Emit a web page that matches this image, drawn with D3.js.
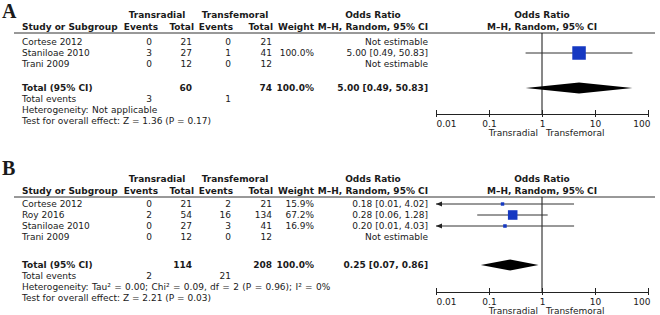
<!DOCTYPE html>
<html>
<head>
<meta charset="utf-8">
<script src="https://cdn.jsdelivr.net/npm/d3@7"></script>
<style>
  body { margin: 0; background: #fff; }
  text { font-family: "DejaVu Sans", sans-serif; font-size: 9px; fill: #1a1a1a; }
  .bold { font-weight: bold; }
</style>
</head>
<body>
<svg id="chart" width="660" height="315"></svg>
<script>
// ---- panel A data
const studiesA = ["Cortese 2012", "Staniloae 2010", "Trani 2009"];
const radEventsA = [0, 3, 0];
const radTotalA = [21, 27, 12];
const femEventsA = [0, 1, 0];
const femTotalA = [21, 41, 12];
const weightA = [null, 100.0, null];
const orA = [null, 5.00, null];
const loA = [null, 0.49, null];
const hiA = [null, 50.83, null];
const pooledA = [5.00, 0.49, 50.83];
const totalsA = [60, 74];
const totalEventsA = [3, 1];
const hetA = "Heterogeneity: Not applicable";
const testA = "Test for overall effect: Z = 1.36 (P = 0.17)";

// ---- panel B data
const studiesB = ["Cortese 2012", "Roy 2016", "Staniloae 2010", "Trani 2009"];
const radEventsB = [0, 2, 0, 0];
const radTotalB = [21, 54, 27, 12];
const femEventsB = [2, 16, 3, 0];
const femTotalB = [21, 134, 41, 12];
const weightB = [15.9, 67.2, 16.9, null];
const orB = [0.18, 0.28, 0.20, null];
const loB = [0.01, 0.06, 0.01, null];
const hiB = [4.02, 1.28, 4.03, null];
const pooledB = [0.25, 0.07, 0.86];
const totalsB = [114, 208];
const totalEventsB = [2, 21];
const hetB = "Heterogeneity: Tau² = 0.00; Chi² = 0.09, df = 2 (P = 0.96); I² = 0%";
const testB = "Test for overall effect: Z = 2.21 (P = 0.03)";

const tickValues = [0.01, 0.1, 1, 10, 100];
const tickLabels = ["0.01", "0.1", "1", "10", "100"];

const svg = d3.select("#chart");
const x = d3.scaleLog().domain([0.01, 100]).range([436, 648]);
const boxSize = d3.scaleLinear().domain([0, 100]).range([1.5, 13.5]);
const fmt = d3.format(".2f");

// column anchors (right aligned)
const col = { study: 22, ev1: 152, tot1: 192, ev2: 231, tot2: 272, wt: 314, ci: 428 };

function drawPanel(p) {
    const g = svg.append("g");

    g.append("text")
        .attr("x", 2).attr("y", p.letterY)
        .style("font-family", "'Liberation Serif', 'DejaVu Serif', serif")
        .style("font-size", "20px").style("font-weight", "bold")
        .text(p.letter);

    const h1 = p.lineY - 18, h2 = p.lineY - 6;
    const head = (txt, xx, yy, anchor) => g.append("text").attr("class", "bold")
        .attr("x", xx).attr("y", yy).attr("dy", "0.35em")
        .attr("text-anchor", anchor).text(txt);

    head("Transradial", 157, h1, "middle");
    head("Transfemoral", 235, h1, "middle");
    head("Odds Ratio", 373, h1, "middle");
    head("Odds Ratio", x(1), h1, "middle");
    head("Study or Subgroup", col.study, h2, "start");
    head("Events", col.ev1 + 6, h2, "end");
    head("Total", col.tot1 + 2, h2, "end");
    head("Events", col.ev2 + 2, h2, "end");
    head("Total", col.tot2 + 1, h2, "end");
    head("Weight", col.wt, h2, "end");
    head("M–H, Random, 95% CI", col.ci, h2, "end");
    head("M–H, Random, 95% CI", x(1), h2, "middle");

    g.append("line")
        .attr("x1", 14).attr("x2", 655)
        .attr("y1", p.lineY).attr("y2", p.lineY)
        .attr("stroke", "#333").attr("stroke-width", 1);

    const rowY = i => p.rowStart + i * 11;
    const cell = (txt, xx, yy, anchor, cls) => g.append("text")
        .attr("class", cls || null)
        .attr("x", xx).attr("y", yy).attr("dy", "0.35em")
        .attr("text-anchor", anchor).text(txt);

    p.studies.forEach((s, i) => {
        const y = rowY(i);
        cell(s, col.study, y, "start");
        cell(p.radEvents[i], col.ev1, y, "end");
        cell(p.radTotal[i], col.tot1, y, "end");
        cell(p.femEvents[i], col.ev2, y, "end");
        cell(p.femTotal[i], col.tot2, y, "end");
        if (p.weight[i] != null) cell(p.weight[i].toFixed(1) + "%", col.wt, y, "end");
        cell(p.or[i] == null ? "Not estimable"
            : `${fmt(p.or[i])} [${fmt(p.lo[i])}, ${fmt(p.hi[i])}]`, col.ci, y, "end");
    });

    // vertical line at OR = 1
    g.append("line")
        .attr("x1", x(1)).attr("x2", x(1))
        .attr("y1", p.lineY).attr("y2", p.axisY)
        .attr("stroke", "#111").attr("stroke-width", 1);

    // study CIs and boxes
    p.studies.forEach((s, i) => {
        if (p.or[i] == null) return;
        const y = rowY(i);
        const [d0, d1] = x.domain();
        const lo = Math.max(p.lo[i], d0), hi = Math.min(p.hi[i], d1);
        g.append("line")
            .attr("x1", x(lo)).attr("x2", x(hi))
            .attr("y1", y).attr("y2", y)
            .attr("stroke", "#333").attr("stroke-width", 1);
        if (p.lo[i] <= d0) {
            const ax = x(d0);
            g.append("path")
                .attr("d", `M${ax},${y}L${ax + 6},${y - 2.5}L${ax + 6},${y + 2.5}Z`)
                .attr("fill", "#222");
        }
        const s2 = boxSize(p.weight[i]);
        g.append("rect")
            .attr("x", x(p.or[i]) - s2 / 2).attr("y", y - s2 / 2)
            .attr("width", s2).attr("height", s2)
            .attr("fill", "#1538c2");
    });

    // totals
    const ty = p.totalY;
    cell("Total (95% CI)", col.study, ty, "start", "bold");
    cell(p.totals[0], col.tot1, ty, "end", "bold");
    cell(p.totals[1], col.tot2, ty, "end", "bold");
    cell("100.0%", col.wt, ty, "end", "bold");
    cell(`${fmt(p.pooled[0])} [${fmt(p.pooled[1])}, ${fmt(p.pooled[2])}]`, col.ci, ty, "end", "bold");
    cell("Total events", col.study, ty + 11, "start");
    cell(p.totalEvents[0], col.ev1, ty + 11, "end");
    cell(p.totalEvents[1], col.ev2, ty + 11, "end");
    cell(p.het, col.study, ty + 22, "start").style("word-spacing", "0.5px");
    cell(p.test, col.study, ty + 33, "start");

    const [pm, pl, ph] = p.pooled;
    g.append("path")
        .attr("d", `M${x(pl)},${ty}L${x(pm)},${ty - 5.5}L${x(ph)},${ty}L${x(pm)},${ty + 5.5}Z`)
        .attr("fill", "#000");

    // axis
    const axis = d3.axisBottom(x)
        .tickValues(tickValues)
        .tickFormat((d, i) => tickLabels[i])
        .tickSize(4).tickSizeOuter(0).tickPadding(3);
    const ag = g.append("g").attr("transform", `translate(0,${p.axisY})`).call(axis);
    ag.select(".domain").attr("stroke", "#222");
    ag.selectAll(".tick line").attr("y1", -4).attr("y2", 3).attr("stroke", "#222");
    ag.selectAll(".tick text")
        .style("font-family", "'DejaVu Sans', sans-serif")
        .style("font-size", "9px").attr("fill", "#1a1a1a")
        .attr("text-anchor", (d, i) => i === 0 ? "start" : i === tickValues.length - 1 ? "end" : "middle")
        .attr("x", (d, i) => i === tickValues.length - 1 ? 2 : 0);

    g.append("text").attr("x", x(1) - 4).attr("y", p.axisY + 19).attr("dy", "0.35em")
        .attr("text-anchor", "end").text("Transradial");
    g.append("text").attr("x", x(1) + 4).attr("y", p.axisY + 19).attr("dy", "0.35em")
        .attr("text-anchor", "start").text("Transfemoral");
}

drawPanel({
    letter: "A", letterY: 18, lineY: 33, rowStart: 42, totalY: 88, axisY: 114,
    studies: studiesA, radEvents: radEventsA, radTotal: radTotalA,
    femEvents: femEventsA, femTotal: femTotalA, weight: weightA,
    or: orA, lo: loA, hi: hiA, pooled: pooledA, totals: totalsA,
    totalEvents: totalEventsA, het: hetA, test: testA
});

drawPanel({
    letter: "B", letterY: 175, lineY: 197, rowStart: 204, totalY: 265, axisY: 292,
    studies: studiesB, radEvents: radEventsB, radTotal: radTotalB,
    femEvents: femEventsB, femTotal: femTotalB, weight: weightB,
    or: orB, lo: loB, hi: hiB, pooled: pooledB, totals: totalsB,
    totalEvents: totalEventsB, het: hetB, test: testB
});
</script>
</body>
</html>
